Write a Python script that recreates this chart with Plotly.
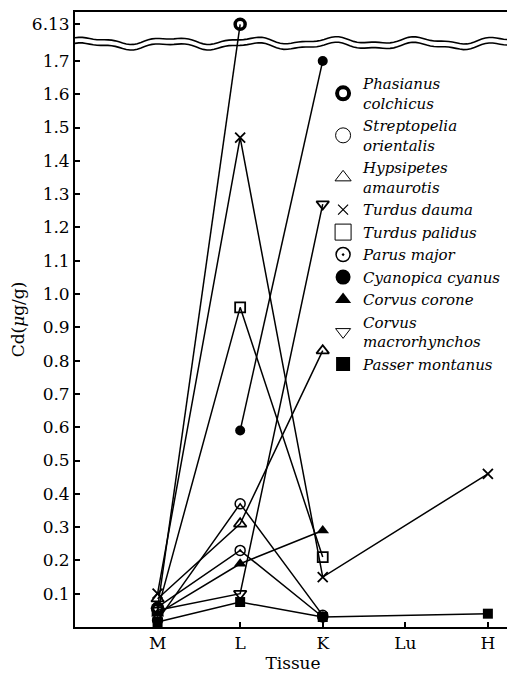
import numpy as np
import plotly.graph_objects as go

# ---------------- data ----------------
tissues = ["M", "L", "K", "Lu", "H"]

phasianus_colchicus = [0.055, 6.13, None, None, None]
streptopelia_orientalis = [0.02, 0.37, 0.035, None, None]
hypsipetes_amaurotis = [0.085, 0.31, 0.83, None, None]
turdus_dauma = [0.10, 1.47, 0.15, None, 0.46]
turdus_palidus = [0.05, 0.96, 0.21, None, None]
parus_major = [0.06, 0.23, 0.03, None, None]
cyanopica_cyanus = [None, 0.59, 1.70, None, None]
corvus_corone = [0.04, 0.19, 0.29, None, None]
corvus_macrorhynchos = [0.05, 0.10, 1.27, None, None]
passer_montanus = [0.015, 0.075, 0.03, None, 0.04]

species_names = [
    "Phasianus<br>colchicus",
    "Streptopelia<br>orientalis",
    "Hypsipetes<br>amaurotis",
    "Turdus dauma",
    "Turdus palidus",
    "Parus major",
    "Cyanopica cyanus",
    "Corvus corone",
    "Corvus<br>macrorhynchos",
    "Passer montanus",
]
series_values = [
    phasianus_colchicus, streptopelia_orientalis, hypsipetes_amaurotis,
    turdus_dauma, turdus_palidus, parus_major, cyanopica_cyanus,
    corvus_corone, corvus_macrorhynchos, passer_montanus,
]

y_ticks_low = [0.1, 0.2, 0.3, 0.4, 0.5, 0.6, 0.7, 0.8, 0.9, 1.0,
               1.1, 1.2, 1.3, 1.4, 1.5, 1.6, 1.7]
y_ticks_high = [6.13]

# ---------------- broken axis transform ----------------
LOW_MAX = 1.75       # top of the lower (main) segment
Y_MAX = 1.847        # top of the displayed range
HIGH_LO, HIGH_HI = 6.0, 6.25
HIGH_BASE = 1.77


def broken(v):
    if v is None:
        return None
    if v <= LOW_MAX:
        return v
    return HIGH_BASE + (v - HIGH_LO) / (HIGH_HI - HIGH_LO) * (Y_MAX - HIGH_BASE)


# ---------------- styles ----------------
BLACK = "black"
styles = [
    dict(symbol="circle-open", size=10, line=dict(width=3.5, color=BLACK), color=BLACK),
    dict(symbol="circle-open", size=10, line=dict(width=1.5, color=BLACK), color=BLACK),
    dict(symbol="triangle-up-open", size=11, line=dict(width=1.8, color=BLACK), color=BLACK),
    dict(symbol="x-thin-open", size=10, line=dict(width=1.8, color=BLACK), color=BLACK),
    dict(symbol="square-open", size=10, line=dict(width=1.8, color=BLACK), color=BLACK),
    dict(symbol="circle-open-dot", size=10, line=dict(width=1.5, color=BLACK), color=BLACK),
    dict(symbol="circle", size=10, line=dict(width=0, color=BLACK), color=BLACK),
    dict(symbol="triangle-up", size=11, line=dict(width=0, color=BLACK), color=BLACK),
    dict(symbol="triangle-down-open", size=11, line=dict(width=1.8, color=BLACK), color=BLACK),
    dict(symbol="square", size=10, line=dict(width=0, color=BLACK), color=BLACK),
]
legend_styles = [
    dict(symbol="circle-open", size=12, line=dict(width=4, color=BLACK), color=BLACK),
    dict(symbol="circle-open", size=15, line=dict(width=1, color=BLACK), color=BLACK),
    dict(symbol="triangle-up-open", size=14, line=dict(width=1, color=BLACK), color=BLACK),
    dict(symbol="x-thin-open", size=10, line=dict(width=1.2, color=BLACK), color=BLACK),
    dict(symbol="square-open", size=16, line=dict(width=1, color=BLACK), color=BLACK),
    dict(symbol="circle-open-dot", size=14, line=dict(width=1.5, color=BLACK), color=BLACK),
    dict(symbol="circle", size=15, line=dict(width=0, color=BLACK), color=BLACK),
    dict(symbol="triangle-up", size=14, line=dict(width=0, color=BLACK), color=BLACK),
    dict(symbol="triangle-down-open", size=13, line=dict(width=1, color=BLACK), color=BLACK),
    dict(symbol="square", size=14, line=dict(width=0, color=BLACK), color=BLACK),
]

FONT = "DejaVu Serif"

fig = go.Figure()

for name, vals, st in zip(species_names, series_values, styles):
    plain = name.replace("<br>", " ")
    fig.add_trace(go.Scatter(
        x=tissues, y=[broken(v) for v in vals], mode="lines+markers",
        connectgaps=True, showlegend=False, name=plain,
        line=dict(color=BLACK, width=1.5), marker=st, cliponaxis=False,
        customdata=vals,
        hovertemplate="%{x}: %{customdata}<extra>" + plain + "</extra>",
    ))

for name, st in zip(species_names, legend_styles):
    fig.add_trace(go.Scatter(
        x=[None], y=[None], mode="markers",
        name="<i>" + name.replace("<br>", "</i><br><i>") + "</i>",
        marker=st, showlegend=True,
    ))

# wavy break lines (decoration, paper coordinates)
xs = np.linspace(0, 1, 120)
wave = 0.0045 * np.sin(2 * np.pi * xs * 5.3 + 0.6) + 0.002 * np.sin(2 * np.pi * xs * 11.7 + 1.3)
for base in (0.9535, 0.9445):
    ys = base + wave
    path = "M " + " L ".join(f"{x:.4f},{y:.4f}" for x, y in zip(xs, ys))
    fig.add_shape(type="path", path=path, xref="paper", yref="paper",
                  line=dict(color=BLACK, width=1.6), layer="above")

tickvals = y_ticks_low + [broken(v) for v in y_ticks_high]
ticktext = [f"{v:.1f}" for v in y_ticks_low] + [f"{v:.2f}" for v in y_ticks_high]

fig.update_layout(
    width=507, height=667,
    margin=dict(l=66, r=2, t=2, b=48),
    paper_bgcolor="white", plot_bgcolor="white",
    font=dict(family=FONT, color=BLACK, size=17),
    xaxis=dict(
        type="category", categoryorder="array", categoryarray=tissues,
        range=[-1, 4.28], showgrid=False, zeroline=False,
        showline=True, linecolor=BLACK, linewidth=1.8, mirror=True,
        ticks="inside", ticklen=5, tickwidth=1.5, tickcolor=BLACK,
        tickfont=dict(family=FONT, size=17),
        title=dict(text="Tissue", font=dict(family=FONT, size=17), standoff=2),
    ),
    yaxis=dict(
        range=[0, Y_MAX], showgrid=False, zeroline=False,
        showline=True, linecolor=BLACK, linewidth=1.8, mirror=True,
        tickmode="array", tickvals=tickvals, ticktext=ticktext,
        ticks="inside", ticklen=5, tickwidth=1.5, tickcolor=BLACK,
        tickfont=dict(family=FONT, size=17),
        title=dict(text="Cd(<i>μ</i>g/g)", font=dict(family=FONT, size=17), standoff=10),
    ),
    legend=dict(
        x=0.569, y=0.91, xanchor="left", yanchor="top",
        bgcolor="rgba(0,0,0,0)", borderwidth=0,
        font=dict(family=FONT, size=15, color=BLACK),
        tracegroupgap=0, itemsizing="trace",
    ),
)

fig.write_html("out.html")
